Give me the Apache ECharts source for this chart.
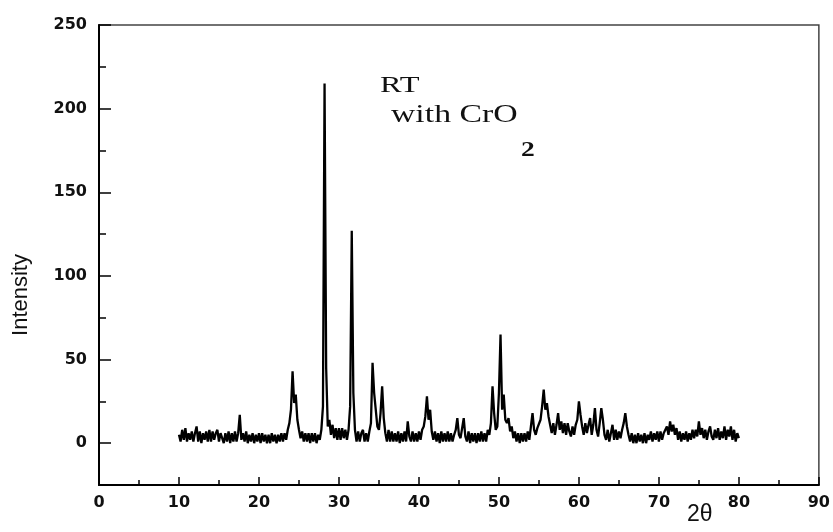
<!DOCTYPE html>
<html>
<head>
<meta charset="utf-8">
<script src="https://cdn.jsdelivr.net/npm/echarts@6/dist/echarts.min.js"></script>
<style>html,body{margin:0;padding:0;background:#fff;}#chart{width:833px;height:532px;}</style>
</head>
<body>
<div id="chart"></div>
<script>
// XRD scan: 2θ from 10° to 80° in 0.2° steps
const scanStart = 10;
const scanStep = 0.2;
const intensity = [
  5, 1, 8, 2, 9, 1, 6, 2, 7, 1,
  6, 10, 1, 7, 0, 6, 2, 7, 1, 8,
  1, 7, 2, 6, 8, 1, 6, 7, 0, 6,
  1, 7, 0, 6, 1, 7, 1, 6, 17, 2,
  6, 1, 7, 0, 5, 1, 6, 0, 5, 1,
  6, 0, 6, 1, 5, 0, 5, 0, 6, 1,
  5, 0, 5, 1, 6, 1, 6, 2, 8, 12,
  20, 43, 24, 29, 14, 8, 3, 7, 1, 6,
  1, 6, 0, 6, 1, 6, 0, 5, 2, 8,
  22, 215, 45, 10, 14, 5, 11, 3, 9, 2,
  9, 2, 9, 3, 8, 2, 8, 22, 127, 30,
  8, 1, 7, 1, 6, 8, 1, 6, 1, 7,
  12, 48, 30, 20, 10, 8, 18, 34, 15, 6,
  1, 8, 1, 7, 1, 6, 1, 7, 0, 6,
  1, 7, 1, 13, 4, 1, 7, 1, 6, 1,
  7, 2, 8, 10, 16, 28, 14, 20, 7, 2,
  7, 1, 6, 0, 7, 1, 6, 1, 7, 1,
  6, 1, 5, 8, 15, 5, 3, 9, 15, 4,
  1, 7, 0, 6, 1, 6, 0, 6, 1, 7,
  1, 6, 1, 8, 5, 12, 34, 18, 8, 10,
  30, 65, 20, 29, 14, 12, 15, 7, 10, 3,
  7, 1, 6, 0, 6, 1, 6, 1, 7, 2,
  10, 18, 8, 5, 9, 10, 14, 22, 32, 20,
  24, 16, 11, 6, 12, 5, 11, 18, 8, 13,
  6, 12, 5, 12, 7, 4, 10, 5, 11, 14,
  25, 17, 10, 5, 12, 6, 11, 15, 5, 11,
  21, 8, 4, 12, 21, 14, 5, 2, 8, 1,
  6, 11, 2, 8, 2, 7, 3, 8, 12, 18,
  10, 5, 1, 6, 0, 5, 0, 6, 1, 5,
  0, 6, 0, 5, 2, 7, 1, 6, 2, 7,
  1, 7, 2, 6, 7, 10, 5, 13, 7, 11,
  5, 9, 2, 7, 1, 6, 2, 7, 1, 6,
  2, 8, 3, 8, 4, 13, 5, 9, 3, 8,
  2, 7, 10, 4, 2, 8, 3, 9, 2, 7,
  3, 10, 2, 8, 4, 10, 2, 8, 1, 6,
  3
];
const yMajorTicks = [0, 50, 100, 150, 200, 250];
const xAxisName = '2θ';
const yAxisName = 'Intensity';
const noteLine1 = 'RT';
const noteLine2 = 'with CrO';
const noteSub = '2';

const seriesData = intensity.map((v, i) => [Math.round((scanStart + i * scanStep) * 10) / 10, v]);

const chart = echarts.init(document.getElementById('chart'));
const labelFont = { fontFamily: '"DejaVu Sans", sans-serif', fontWeight: 'bold', fontSize: 16, color: '#111' };
chart.setOption({
  animation: false,
  backgroundColor: '#fff',
  grid: { left: 99, right: 12, top: 25, bottom: 47, show: true, borderColor: '#444', borderWidth: 1.5 },
  xAxis: {
    type: 'value', min: 0, max: 90, interval: 10,
    axisLine: { show: true, onZero: false, lineStyle: { color: '#000', width: 2 } },
    axisTick: { show: true, inside: true, length: 8, lineStyle: { color: '#000', width: 1.5 } },
    minorTick: { show: true, splitNumber: 2, length: 5, lineStyle: { color: '#000', width: 1.5 } },
    splitLine: { show: false },
    axisLabel: Object.assign({ margin: 10 }, labelFont)
  },
  yAxis: [{
    type: 'value', min: -25, max: 250, interval: 25,
    axisLine: { show: true, onZero: false, lineStyle: { color: '#000', width: 2 } },
    axisTick: { show: true, inside: true, length: 7, lineStyle: { color: '#000', width: 1.5 } },
    splitLine: { show: false },
    axisLabel: Object.assign({ margin: 12, formatter: v => (v >= 0 && v % 50 === 0) ? String(v) : '' }, labelFont)
  }, {
    type: 'value', min: -25, max: 250, position: 'left', offset: 0,
    axisLine: { show: false, onZero: false },
    axisTick: { show: true, inside: true, length: 12, customValues: yMajorTicks, lineStyle: { color: '#000', width: 1.5 } },
    axisLabel: { show: false },
    splitLine: { show: false }
  }],
  graphic: [
    { type: 'text', x: 21, y: 295, rotation: Math.PI / 2, style: { text: yAxisName, font: '22px "Liberation Sans", Arial, sans-serif', fill: '#111', align: 'center', verticalAlign: 'middle' } },
    { type: 'text', x: 380, y: 86, scaleX: 1.35, style: { text: noteLine1, font: '24px "Liberation Serif", serif', fill: '#111', verticalAlign: 'middle' } },
    { type: 'text', x: 391, y: 115, scaleX: 1.35, style: { text: noteLine2, font: '25px "Liberation Serif", serif', fill: '#111', verticalAlign: 'middle' } },
    { type: 'text', x: 521, y: 150, scaleX: 1.25, style: { text: noteSub, font: 'bold 22px "Liberation Serif", serif', fill: '#111', verticalAlign: 'middle' } },
    { type: 'text', x: 687, y: 515, style: { text: xAxisName, font: '23px "Liberation Sans", Arial, sans-serif', fill: '#111', verticalAlign: 'middle' } }
  ],
  series: [{
    type: 'line', data: seriesData, showSymbol: false, symbol: 'none',
    lineStyle: { color: '#000', width: 2.3 },
    silent: true
  }]
});
</script>
</body>
</html>
